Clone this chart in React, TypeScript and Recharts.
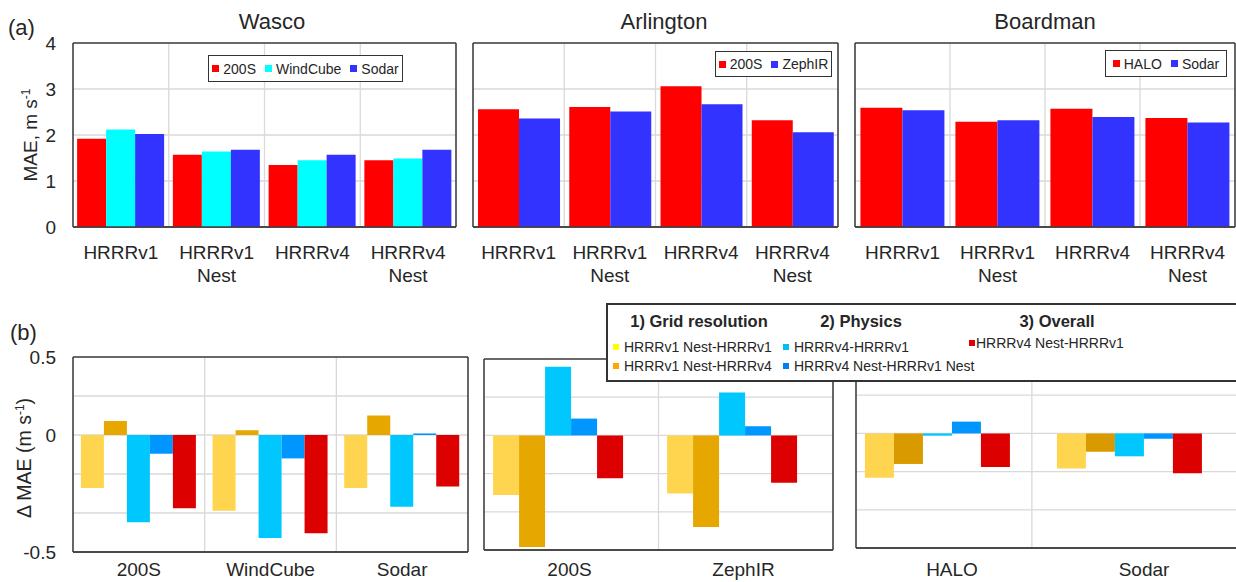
import React from "react";
import { BarChart, Bar, XAxis, YAxis, CartesianGrid } from "recharts";

const FONT = '"Liberation Sans", Arial, Helvetica, sans-serif';
const TEXT = "#262626";
const GRID = "#d9d9d9";
const FRAME = "#404040";

// (a) MAE per model run
const models = ["HRRRv1", "HRRRv1 Nest", "HRRRv4", "HRRRv4 Nest"];
const maeTicks = [0, 1, 2, 3, 4];

const wasco200S = [1.92, 1.57, 1.35, 1.45];
const wascoWindCube = [2.12, 1.64, 1.45, 1.49];
const wascoSodar = [2.02, 1.68, 1.57, 1.68];

const arlington200S = [2.56, 2.61, 3.06, 2.32];
const arlingtonZephIR = [2.36, 2.51, 2.67, 2.06];

const boardmanHALO = [2.59, 2.29, 2.57, 2.37];
const boardmanSodar = [2.54, 2.32, 2.39, 2.27];

// (b) MAE differences per instrument
const wascoSites = ["200S", "WindCube", "Sodar"];
const arlingtonSites = ["200S", "ZephIR"];
const boardmanSites = ["HALO", "Sodar"];

const diffNames = [
  "HRRRv1 Nest-HRRRv1",
  "HRRRv1 Nest-HRRRv4",
  "HRRRv4-HRRRv1",
  "HRRRv4 Nest-HRRRv1 Nest",
  "HRRRv4 Nest-HRRRv1",
];
const diffTicks = [-0.75, -0.5, -0.25, 0, 0.25, 0.5];
const diffTickLabels: Record<string, string> = { "0.5": "0.5", "0": "0", "-0.75": "-0.5" };

const wascoGridV1 = [-0.34, -0.485, -0.34];
const wascoGridV4 = [0.09, 0.03, 0.125];
const wascoPhysV1 = [-0.56, -0.66, -0.46];
const wascoPhysNest = [-0.12, -0.15, 0.01];
const wascoOverall = [-0.47, -0.63, -0.33];

const arlingtonGridV1 = [-0.39, -0.38];
const arlingtonGridV4 = [-0.73, -0.6];
const arlingtonPhysV1 = [0.45, 0.28];
const arlingtonPhysNest = [0.11, 0.06];
const arlingtonOverall = [-0.28, -0.31];

const boardmanGridV1 = [-0.29, -0.23];
const boardmanGridV4 = [-0.2, -0.12];
const boardmanPhysV1 = [-0.015, -0.15];
const boardmanPhysNest = [0.077, -0.035];
const boardmanOverall = [-0.22, -0.26];

const diffColors = ["#FFD54F", "#E6A800", "#00C8FF", "#0096FF", "#DD0000"];
const diffLegendColors = ["#FFFF00", "#FFA500", "#00C0F0", "#0080F0", "#E00000"];

const diffGroups = [
  { title: "1) Grid resolution", members: [0, 1] },
  { title: "2) Physics", members: [2, 3] },
  { title: "3) Overall", members: [4] },
];

type Series = { name: string; color: string; values: number[] };

const wascoSeries: Series[] = [
  { name: "200S", color: "#FF0000", values: wasco200S },
  { name: "WindCube", color: "#00FFFF", values: wascoWindCube },
  { name: "Sodar", color: "#3333FF", values: wascoSodar },
];
const arlingtonSeries: Series[] = [
  { name: "200S", color: "#FF0000", values: arlington200S },
  { name: "ZephIR", color: "#3333FF", values: arlingtonZephIR },
];
const boardmanSeries: Series[] = [
  { name: "HALO", color: "#FF0000", values: boardmanHALO },
  { name: "Sodar", color: "#3333FF", values: boardmanSodar },
];

const diffSeries = (vals: number[][], colors = diffColors): Series[] =>
  diffNames.map((name, i) => ({ name, color: colors[i], values: vals[i] }));

const wascoDiffSeries = diffSeries([wascoGridV1, wascoGridV4, wascoPhysV1, wascoPhysNest, wascoOverall]);
const arlingtonDiffSeries = diffSeries([arlingtonGridV1, arlingtonGridV4, arlingtonPhysV1, arlingtonPhysNest, arlingtonOverall]);
const boardmanDiffSeries = diffSeries(
  [boardmanGridV1, boardmanGridV4, boardmanPhysV1, boardmanPhysNest, boardmanOverall],
  ["#FFD54F", "#D99A00", "#00C8FF", "#0096FF", "#DD0000"]
);

function CatTick(props: any) {
  const { x, y, payload, shiftX, base } = props;
  const lines = String(payload.value).split(" ");
  return (
    <text x={x + shiftX} y={y + base} textAnchor="middle" fill={TEXT} fontSize={19} fontFamily={FONT}>
      {lines.map((ln, i) => (
        <tspan key={i} x={x + shiftX} dy={i === 0 ? 0 : 23}>
          {ln}
        </tspan>
      ))}
    </text>
  );
}

type PanelProps = {
  left: number;
  top: number;
  width: number;
  height: number;
  margin: { top: number; right: number; left: number; bottom: number };
  categories: string[];
  series: Series[];
  domain: [number, number];
  ticks: number[];
  yAxisWidth: number;
  tickFormatter?: (v: number) => string;
  gap: string;
  gridFracs: number[];
  xHeight: number;
  padding?: { left: number; right: number };
  shiftX?: number;
  base: number;
};

function Panel(p: PanelProps) {
  const data = p.categories.map((cat, i) => {
    const row: Record<string, string | number> = { cat };
    p.series.forEach((s) => (row[s.name] = s.values[i]));
    return row;
  });
  return (
    <div style={{ position: "absolute", left: p.left, top: p.top }}>
      <BarChart width={p.width} height={p.height} data={data} margin={p.margin} barGap={0} barCategoryGap={p.gap}>
        <CartesianGrid
          stroke={GRID}
          strokeWidth={1.3}
          verticalCoordinatesGenerator={({ offset }: any) => p.gridFracs.map((f) => offset.left + f * offset.width)}
        />
        <CartesianGrid
          stroke={FRAME}
          strokeWidth={1.6}
          fill="none"
          horizontalCoordinatesGenerator={({ offset }: any) => [offset.top, offset.top + offset.height]}
          verticalCoordinatesGenerator={({ offset }: any) => [offset.left, offset.left + offset.width]}
        />
        <XAxis
          dataKey="cat"
          height={p.xHeight}
          tickLine={false}
          tickSize={0}
          axisLine={{ stroke: FRAME, strokeWidth: 1.6 }}
          interval={0}
          padding={p.padding ?? { left: 0, right: 0 }}
          tick={(t: any) => <CatTick {...t} shiftX={p.shiftX ?? 0} base={p.base} />}
        />
        <YAxis
          type="number"
          width={p.yAxisWidth}
          hide={p.yAxisWidth === 0}
          domain={p.domain}
          ticks={p.ticks}
          interval={0}
          tickLine={false}
          axisLine={false}
          tickSize={0}
          tickMargin={17}
          tickFormatter={p.tickFormatter}
          tick={{ fontSize: 19, fill: TEXT, fontFamily: FONT }}
        />
        {p.series.map((s) => (
          <Bar key={s.name} dataKey={s.name} fill={s.color} isAnimationActive={false} />
        ))}
      </BarChart>
    </div>
  );
}

function BoxLegend({ left, top, width, height, series }: { left: number; top: number; width: number; height: number; series: Series[] }) {
  return (
    <div
      style={{
        position: "absolute",
        left,
        top,
        width,
        height,
        boxSizing: "border-box",
        border: "1.5px solid #333",
        background: "#fff",
        display: "flex",
        alignItems: "center",
        justifyContent: "center",
        gap: 9,
        fontSize: 14,
        color: TEXT,
        whiteSpace: "nowrap",
      }}
    >
      {series.map((s) => (
        <div key={s.name} style={{ display: "flex", alignItems: "center" }}>
          <span style={{ width: 7, height: 7, background: s.color, marginRight: 4, display: "inline-block" }} />
          {s.name}
        </div>
      ))}
    </div>
  );
}

const legendCols = [
  { titleX: 91, itemX: 7, itemY: 44 },
  { titleX: 253, itemX: 177, itemY: 44 },
  { titleX: 449, itemX: 363, itemY: 40 },
];

function DiffLegend() {
  return (
    <div
      style={{
        position: "absolute",
        left: 606,
        top: 303,
        width: 660,
        height: 79,
        boxSizing: "border-box",
        border: "2px solid #333",
        background: "#fff",
        color: TEXT,
        whiteSpace: "nowrap",
      }}
    >
      {diffGroups.map((g, gi) => {
        const c = legendCols[gi];
        return (
          <React.Fragment key={g.title}>
            <div
              style={{
                position: "absolute",
                left: c.titleX - 100,
                top: 6,
                width: 200,
                textAlign: "center",
                fontWeight: "bold",
                fontSize: 16.5,
                lineHeight: "20px",
              }}
            >
              {g.title}
            </div>
            {g.members.map((m, k) => (
              <div
                key={m}
                style={{
                  position: "absolute",
                  left: c.itemX - 2,
                  top: c.itemY - 2 - 9 + k * 19,
                  height: 18,
                  display: "flex",
                  alignItems: "center",
                  fontSize: 14,
                }}
              >
                <span style={{ width: 6, height: 6, background: diffLegendColors[m], marginRight: gi === 2 ? 1 : 5, display: "inline-block" }} />
                {diffNames[m]}
              </div>
            ))}
          </React.Fragment>
        );
      })}
    </div>
  );
}

const diffFmt = (v: number) => diffTickLabels[String(v)] ?? "";

export default function App() {
  return (
    <div
      style={{
        position: "fixed",
        left: 0,
        top: 0,
        width: 1236,
        height: 582,
        overflow: "hidden",
        background: "#fff",
        fontFamily: FONT,
      }}
    >
      {/* (a) */}
      <Panel left={0} top={0} width={462} height={290} margin={{ top: 43, right: 6, left: 0, bottom: 0 }}
        categories={models} series={wascoSeries} domain={[0, 4]} ticks={maeTicks} yAxisWidth={73}
        gap="4.3%" gridFracs={[0.25, 0.5, 0.75]} xHeight={63} base={30} />
      <Panel left={466} top={0} width={376} height={290} margin={{ top: 43, right: 4, left: 7, bottom: 0 }}
        categories={models} series={arlingtonSeries} domain={[0, 4]} ticks={maeTicks} yAxisWidth={0}
        gap="5.5%" gridFracs={[0.25, 0.5, 0.75]} xHeight={63} base={30} />
      <Panel left={850} top={0} width={390} height={290} margin={{ top: 43, right: 5, left: 5, bottom: 0 }}
        categories={models} series={boardmanSeries} domain={[0, 4]} ticks={maeTicks} yAxisWidth={0}
        gap="5.7%" gridFracs={[0.25, 0.5, 0.75]} xHeight={63} base={30} />

      {/* (b) */}
      <Panel left={0} top={290} width={472} height={292} margin={{ top: 67, right: 4, left: 0, bottom: 0 }}
        categories={wascoSites} series={wascoDiffSeries} domain={[-0.75, 0.5]} ticks={diffTicks} yAxisWidth={73}
        tickFormatter={diffFmt} gap="6%" gridFracs={[1 / 3, 2 / 3]} xHeight={30} base={22} />
      <Panel left={480} top={290} width={360} height={292} margin={{ top: 69, right: 7, left: 4, bottom: 0 }}
        categories={arlingtonSites} series={arlingtonDiffSeries} domain={[-0.75, 0.5]} ticks={diffTicks} yAxisWidth={0}
        gap="12.4%" gridFracs={[0.5]} xHeight={32} padding={{ left: -12.5, right: 13.5 }} shiftX={11} base={24} />
      <Panel left={850} top={290} width={390} height={292} margin={{ top: 67, right: 0, left: 6, bottom: 0 }}
        categories={boardmanSites} series={boardmanDiffSeries} domain={[-0.75, 0.5]} ticks={diffTicks} yAxisWidth={0}
        gap="12.2%" gridFracs={[0.458]} xHeight={34} padding={{ left: -14.5, right: 14.5 }} shiftX={14.5} base={26} />

      <BoxLegend left={208} top={55} width={195} height={27} series={wascoSeries} />
      <BoxLegend left={715} top={51} width={117} height={26} series={arlingtonSeries} />
      <BoxLegend left={1105} top={50} width={122} height={27} series={boardmanSeries} />
      <DiffLegend />

      <svg width={1236} height={582} style={{ position: "absolute", left: 0, top: 0, pointerEvents: "none" }}>
        <g fontFamily={FONT} fill={TEXT}>
          <text x={8} y={35} fontSize={22}>(a)</text>
          <text x={10} y={340} fontSize={22}>(b)</text>
          <text x={272} y={29} fontSize={22} textAnchor="middle">Wasco</text>
          <text x={664} y={29} fontSize={22} textAnchor="middle">Arlington</text>
          <text x={1045} y={29} fontSize={22} textAnchor="middle">Boardman</text>
          <text transform="translate(37,135) rotate(-90)" fontSize={19} textAnchor="middle">
            MAE, m s<tspan dy={-7} fontSize={12}>-1</tspan>
          </text>
          <text transform="translate(31,458) rotate(-90)" fontSize={19.5} textAnchor="middle">
            Δ MAE (m s<tspan dy={-7} fontSize={12}>-1</tspan>
            <tspan dy={7}>)</tspan>
          </text>
        </g>
      </svg>
    </div>
  );
}
